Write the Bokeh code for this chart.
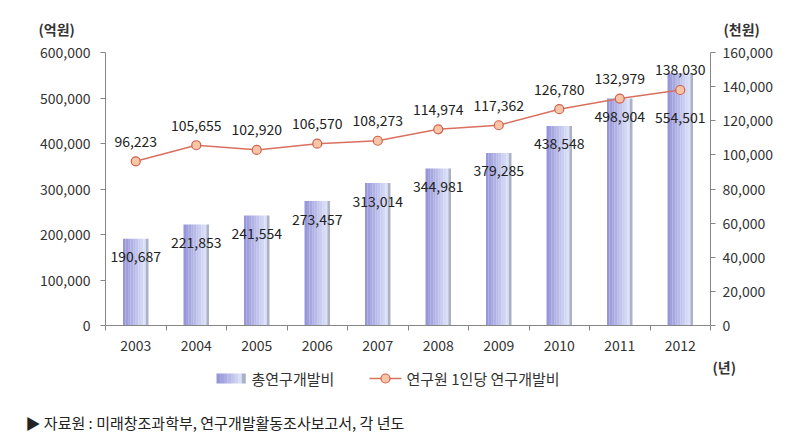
from bokeh.plotting import figure
from bokeh.layouts import column
from bokeh.models import (Range1d, LinearAxis, FixedTicker, NumeralTickFormatter)
from bokeh.core.properties import value
from bokeh.embed import file_html
from bokeh.resources import INLINE

years = ["2003", "2004", "2005", "2006", "2007", "2008", "2009", "2010", "2011", "2012"]
total_rnd = [190687, 221853, 241554, 273457, 313014, 344981, 379285, 438548, 498904, 554501]
per_researcher = [96223, 105655, 102920, 106570, 108273, 114974, 117362, 126780, 132979, 138030]
left_ticks = [0, 100000, 200000, 300000, 400000, 500000, 600000]
right_ticks = [0, 20000, 40000, 60000, 80000, 100000, 120000, 140000, 160000]
left_unit = "(억원)"
right_unit = "(천원)"
x_unit = "(년)"
bar_name = "총연구개발비"
line_name = "연구원 1인당 연구개발비"
source_note = "▶ 자료원 : 미래창조과학부, 연구개발활동조사보고서, 각 년도"

FONT = "Noto Sans CJK KR"
TXT = "#222222"
AX = "#868686"
W = 792
BAR_C0 = (0x96, 0x96, 0xd8)
BAR_C1 = (0xe4, 0xea, 0xfc)
BAR_EDGE = "#aab2c4"
LINE_C = "#d9705f"
MK_FILL = "#f8c6a6"
MK_LINE = "#d0604e"


def grad_colors(n):
    out = []
    for k in range(n):
        t = k / (n - 1)
        col = tuple(int(BAR_C0[j] + (BAR_C1[j] - BAR_C0[j]) * t) for j in range(3))
        out.append("#%02x%02x%02x" % col)
    out[-1] = BAR_EDGE
    return out


def blank(h):
    f = figure(width=W, height=h, x_range=Range1d(0, W), y_range=Range1d(h, 0),
               output_backend="svg", toolbar_location=None, min_border=0,
               min_border_left=0, min_border_right=0, min_border_top=0, min_border_bottom=0,
               x_axis_type=None, y_axis_type=None)
    f.outline_line_color = None
    f.grid.visible = False
    f.frame_align = False
    return f


# ---------- header (unit labels) ----------
HEAD_H = 40
head = blank(HEAD_H)
head.text(x=[38, 723], y=[28, 28], text=[left_unit, right_unit],
          text_font=value(FONT), text_font_size="14px", text_font_style="bold",
          text_color="#333333", text_align="left", text_baseline="middle")

# ---------- main chart ----------
xs = [i + 0.5 for i in range(len(years))]
fmt = lambda v: f"{v:,}"
MAIN_H = 12 + 273 + 32

p = figure(width=W, height=MAIN_H, x_range=Range1d(0, len(years)),
           y_range=Range1d(left_ticks[0], left_ticks[-1]),
           output_backend="svg", toolbar_location=None,
           min_border_left=105, min_border_right=82, min_border_top=12,
           min_border_bottom=32, x_axis_type=None, y_axis_type=None)
p.extra_y_ranges = {"right": Range1d(right_ticks[0], right_ticks[-1])}
p.outline_line_color = None
p.frame_align = False

xax = LinearAxis(ticker=FixedTicker(ticks=xs, minor_ticks=list(range(len(years) + 1))))
xax.major_label_overrides = {x: y for x, y in zip(xs, years)}
xax.major_tick_out = 0
xax.major_tick_in = 0
xax.minor_tick_out = 5
xax.minor_tick_in = 0
xax.minor_tick_line_color = AX
xax.axis_line_color = AX
xax.major_label_standoff = 9
p.add_layout(xax, "below")

lax = LinearAxis(ticker=FixedTicker(ticks=left_ticks), formatter=NumeralTickFormatter(format="0,0"))
rax = LinearAxis(y_range_name="right", ticker=FixedTicker(ticks=right_ticks),
                 formatter=NumeralTickFormatter(format="0,0"))
for ax, so in ((lax, 10), (rax, 7)):
    ax.major_tick_out = 5
    ax.major_tick_in = 0
    ax.minor_tick_out = 0
    ax.major_tick_line_color = AX
    ax.axis_line_color = AX
    ax.major_label_standoff = so
p.add_layout(lax, "left")
p.add_layout(rax, "right")

for ax in (xax, lax, rax):
    ax.major_label_text_font = FONT
    ax.major_label_text_font_size = "14px"
    ax.major_label_text_color = "#333333"

# bars (gradient by stripes)
bar_w = 0.42
n = 10
sw = bar_w / n
for k, c in enumerate(grad_colors(n)):
    p.vbar(x=[x - bar_w / 2 + sw * (k + 0.5) for x in xs], top=total_rnd,
           width=sw * 1.03, fill_color=c, line_color=None)

bar_dy = [18, 18, 18, 18, 18, 18, 18, 18, 18, 44]
p.text(x=xs, y=total_rnd, text=[fmt(v) for v in total_rnd],
       y_offset=bar_dy, text_align="center", text_baseline="middle",
       text_font=value(FONT), text_font_size="14px", text_color=TXT)

p.line(xs, per_researcher, y_range_name="right", line_color=LINE_C, line_width=1.5)
p.scatter(xs, per_researcher, y_range_name="right", size=9, marker="circle",
          fill_color=MK_FILL, line_color=MK_LINE, line_width=1.2)
p.text(x=xs, y=per_researcher, text=[fmt(v) for v in per_researcher],
       y_range_name="right", y_offset=-20, text_align="center", text_baseline="middle",
       text_font=value(FONT), text_font_size="14px", text_color=TXT)

# ---------- footer: x unit, legend, source ----------
FOOT_H = 435 - HEAD_H - MAIN_H
foot = blank(FOOT_H)
foot.text(x=[712], y=[9], text=[x_unit], text_font=value(FONT), text_font_size="14px",
          text_font_style="bold", text_color="#333333", text_align="left",
          text_baseline="middle")
LEG_Y = 21
sw_l, sw_r = 216, 245
ns = 8
step = (sw_r - sw_l) / ns
for k, c in enumerate(grad_colors(ns)):
    foot.quad(left=[sw_l + step * k], right=[sw_l + step * (k + 1) + 0.3],
              top=[LEG_Y - 5], bottom=[LEG_Y + 5], fill_color=c, line_color=None)
foot.text(x=[251], y=[LEG_Y], text=[bar_name], text_font=value(FONT), text_font_size="15px",
          text_color="#333333", text_align="left", text_baseline="middle")
foot.line(x=[369, 401], y=[LEG_Y, LEG_Y], line_color=LINE_C, line_width=1.5)
foot.scatter(x=[385], y=[LEG_Y], size=9, marker="circle", fill_color=MK_FILL,
             line_color=MK_LINE, line_width=1.2)
foot.text(x=[406], y=[LEG_Y], text=[line_name], text_font=value(FONT), text_font_size="15px",
          text_color="#333333", text_align="left", text_baseline="middle")
foot.text(x=[25], y=[65], text=[source_note], text_font=value(FONT), text_font_size="15px",
          text_color="#222222", text_align="left", text_baseline="middle")

layout = column(head, p, foot, spacing=0)
open("out.html", "w").write(file_html(layout, INLINE))
